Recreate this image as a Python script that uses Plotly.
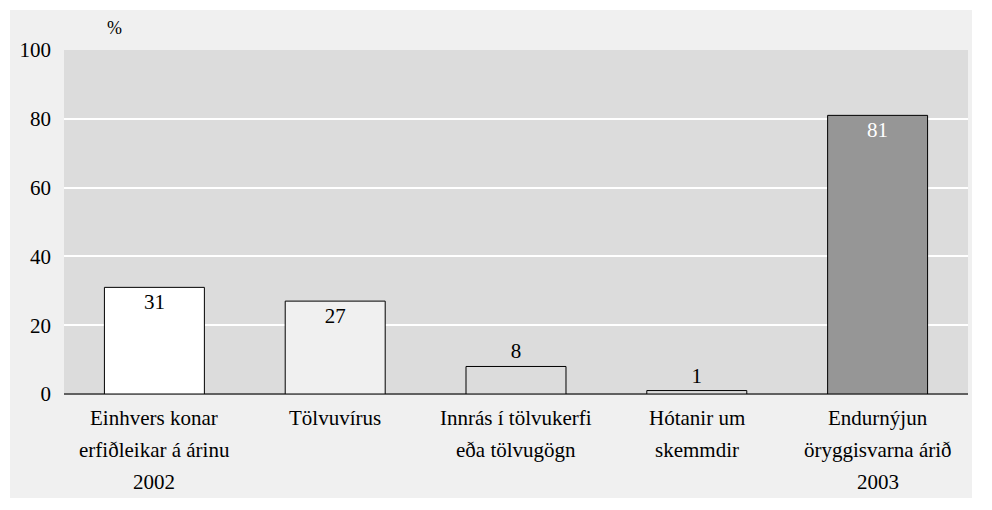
import plotly.graph_objects as go

# Data
categories = [
    "Einhvers konar<br>erfiðleikar á árinu<br>2002",
    "Tölvuvírus",
    "Innrás í tölvukerfi<br>eða tölvugögn",
    "Hótanir um<br>skemmdir",
    "Endurnýjun<br>öryggisvarna árið<br>2003",
]
values = [31, 27, 8, 1, 81]
bar_colors = ["#ffffff", "#f0f0f0", "#dcdcdc", "#dcdcdc", "#969696"]
label_pos = ["inside", "inside", "outside", "outside", "inside"]
label_colors = ["#000000", "#000000", "#000000", "#000000", "#ffffff"]
y_ticks = [0, 20, 40, 60, 80, 100]

font = "Liberation Serif, Times New Roman, serif"

# page body has an 8px margin, so the figure is a bit smaller than the window
W, H = 984, 502
L, T, R, B = 56, 42, 24, 116
pw, ph = W - L - R, H - T - B

fig = go.Figure(go.Bar(
    x=list(range(len(categories))),
    y=values,
    marker=dict(color=bar_colors, line=dict(color="#000000", width=1)),
    text=[str(v) for v in values],
    textposition=label_pos,
    insidetextanchor="end",
    textfont=dict(family=font, size=21, color=label_colors),
    outsidetextfont=dict(family=font, size=21, color="#000000"),
    cliponaxis=False,
    width=0.553,
))

# category labels as annotations (wider line spacing than tick labels allow)
annotations = []
for i, cat in enumerate(categories):
    for j, line in enumerate(cat.split("<br>")):
        annotations.append(dict(
            x=i, y=-(24 + j * 32) / ph, xref="x", yref="paper",
            text=line, showarrow=False, yanchor="middle",
            font=dict(family=font, size=21, color="#000000"),
        ))
annotations.append(dict(
    x=(105 - L - 8) / pw, y=(ph + 22) / ph, xref="paper", yref="paper", text="%",
    showarrow=False, yanchor="middle",
    font=dict(family=font, size=18, color="#000000"),
))

fig.update_layout(
    width=W, height=H,
    margin=dict(l=L, r=R, t=T, b=B),
    paper_bgcolor="#ffffff",
    plot_bgcolor="#dcdcdc",
    showlegend=False,
    annotations=annotations,
    shapes=[
        dict(type="rect", xref="paper", yref="paper",
             x0=(2 - L) / pw, x1=(964 - L) / pw,
             y0=(T + ph - 490) / ph, y1=(T + ph - 2) / ph,
             fillcolor="#f0f0f0", line=dict(width=0), layer="below"),
        dict(type="rect", xref="paper", yref="paper", x0=0, x1=1, y0=0, y1=1,
             fillcolor="#dcdcdc", line=dict(width=0), layer="below"),
    ],
)
fig.update_xaxes(showticklabels=False, showgrid=False, range=[-0.5, 4.5], fixedrange=True)
fig.update_yaxes(
    range=[0, 100], tickvals=y_ticks, showgrid=True, gridcolor="#ffffff", gridwidth=2,
    zeroline=True, zerolinecolor="#606060", zerolinewidth=2,
    tickfont=dict(family=font, size=21, color="#000000"), ticklabelstandoff=12,
)

fig.write_html("out.html")
